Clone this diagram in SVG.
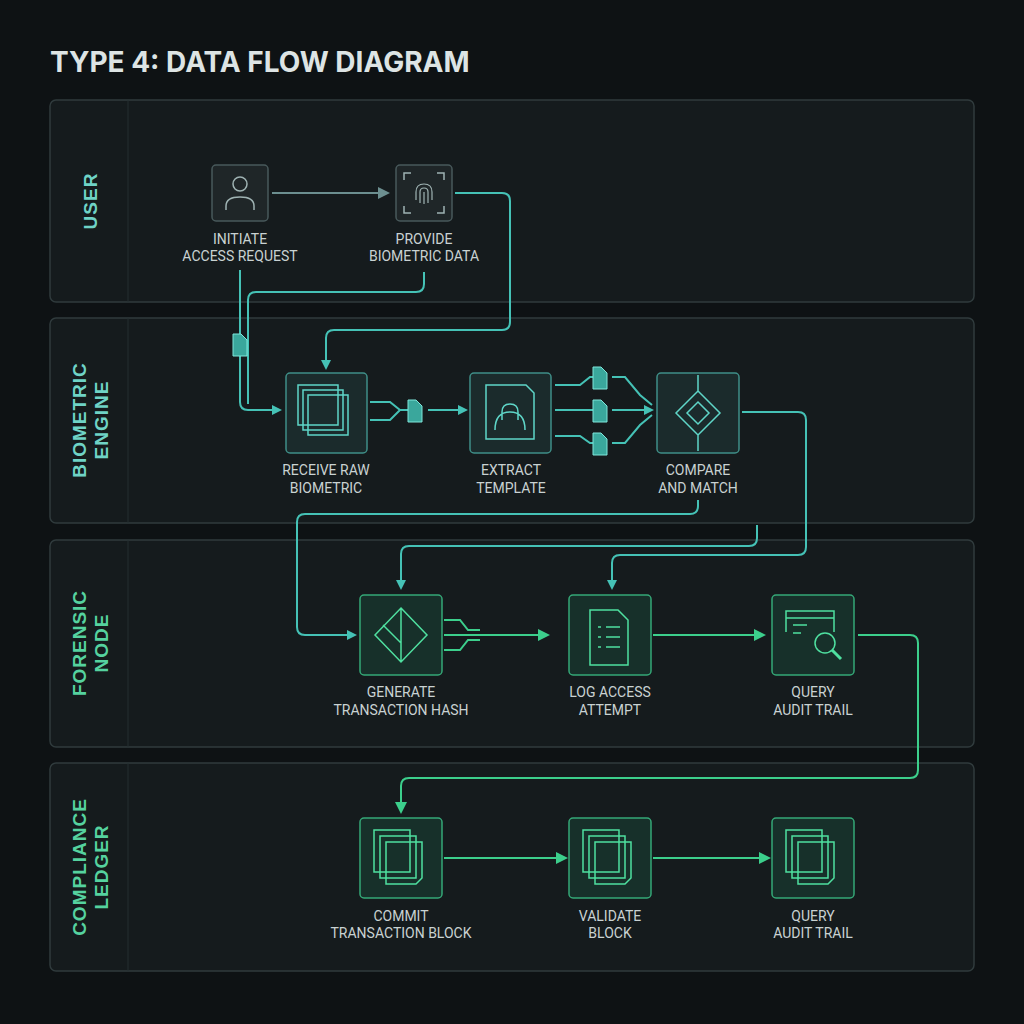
<svg xmlns="http://www.w3.org/2000/svg" width="1024" height="1024" viewBox="0 0 1024 1024">
<style>
.lane{fill:#151b1d;stroke:#303b3d;stroke-width:1.5}
.sep{stroke:#252e30;stroke-width:1}
.ll{font-family:"Liberation Sans",Arial,sans-serif;font-size:19px;font-weight:bold;letter-spacing:1px}
.t{font-family:"Roboto","Liberation Sans",sans-serif;font-size:14px;fill:#c9d2d2;text-anchor:middle}
.nt{fill:#1b2b2c;stroke:#3f8f88;stroke-width:1.5}
.ng{fill:#17302a;stroke:#35a877;stroke-width:1.5}
.nu{fill:#1f2628;stroke:#48595b;stroke-width:1.5}
.ct{fill:none;stroke:#45c2b6;stroke-width:2}
.cg{fill:none;stroke:#3ccf8c;stroke-width:2}
.cu{fill:none;stroke:#6c8f90;stroke-width:2}
.it{fill:none;stroke:#5fd6c8;stroke-width:1.5}
.ig{fill:none;stroke:#4fe0a0;stroke-width:1.5}
.doc{fill:#3aa79c;stroke:#7fe6da;stroke-width:1}
</style>
<defs>
<marker id="at" markerWidth="10" markerHeight="10" refX="8" refY="5" orient="auto" markerUnits="userSpaceOnUse"><path d="M0,0L10,5L0,10z" fill="#45c2b6"/></marker>
<marker id="ag" markerWidth="12" markerHeight="12" refX="10" refY="6" orient="auto" markerUnits="userSpaceOnUse"><path d="M0,0L12,6L0,12z" fill="#3ccf8c"/></marker>
<marker id="au" markerWidth="12" markerHeight="12" refX="10" refY="6" orient="auto" markerUnits="userSpaceOnUse"><path d="M0,0L12,6L0,12z" fill="#6c8f90"/></marker>
</defs>
<rect width="1024" height="1024" fill="#0e1214"/>
<text x="50" y="72" font-family="Inter,'Liberation Sans',sans-serif" font-size="28" font-weight="bold" fill="#dde4e4">TYPE 4: DATA FLOW DIAGRAM</text>

<g id="lanes">
<rect class="lane" x="50" y="100" width="924" height="202" rx="6"/>
<rect class="lane" x="50" y="318" width="924" height="205" rx="6"/>
<rect class="lane" x="50" y="540" width="924" height="207" rx="6"/>
<rect class="lane" x="50" y="763" width="924" height="208" rx="6"/>
<line class="sep" x1="128" y1="100" x2="128" y2="302"/>
<line class="sep" x1="128" y1="318" x2="128" y2="523"/>
<line class="sep" x1="128" y1="540" x2="128" y2="747"/>
<line class="sep" x1="128" y1="763" x2="128" y2="971"/>
<text class="ll" fill="#6fd3c6" text-anchor="middle" transform="translate(97,201) rotate(-90)">USER</text>
<text class="ll" fill="#6fd3c6" text-anchor="middle" transform="translate(86,420) rotate(-90)">BIOMETRIC<tspan x="0" dy="22">ENGINE</tspan></text>
<text class="ll" fill="#55d29f" text-anchor="middle" transform="translate(86,643) rotate(-90)">FORENSIC<tspan x="0" dy="22">NODE</tspan></text>
<text class="ll" fill="#55d29f" text-anchor="middle" transform="translate(86,867) rotate(-90)">COMPLIANCE<tspan x="0" dy="22">LEDGER</tspan></text>
</g>

<g id="connectors">
<path class="cu" d="M272,193H388" marker-end="url(#au)"/>
<path class="ct" d="M455,193H502Q510,193 510,201V322Q510,330 502,330H334Q326,330 326,338V368" marker-end="url(#at)"/>
<path class="ct" d="M240,270V402Q240,410 248,410H280" marker-end="url(#at)"/>
<path class="ct" d="M424,272V284Q424,292 416,292H256Q248,292 248,300V404"/>
<path class="ct" d="M370,402H390L400,410H410M370,420H390L400,410" />
<path class="ct" d="M428,410H466" marker-end="url(#at)"/>
<path class="ct" d="M555,385H580L590,377H596M555,410H596M555,436H580L590,443H596"/>
<path class="ct" d="M612,377H625L640,395L652,405M612,410H652M612,443H625L640,425L652,415"/>
<path class="ct" d="M612,410H652" marker-end="url(#at)"/>
<path class="ct" d="M742,412H798Q806,412 806,420V547Q806,555 798,555H620Q612,555 612,563V588" marker-end="url(#at)"/>
<path class="ct" d="M698,500V506Q698,514 690,514H305Q297,514 297,522V627Q297,635 305,635H355" marker-end="url(#at)"/>
<path class="ct" d="M757,525V538Q757,546 749,546H409Q401,546 401,554V588" marker-end="url(#at)"/>
<path class="cg" d="M444,620H460L468,630H480M444,650H460L468,640H480M444,635H548" marker-end="url(#ag)"/>
<path class="cg" d="M653,635H764" marker-end="url(#ag)"/>
<path class="cg" d="M858,635H910Q918,635 918,643V770Q918,778 910,778H409Q401,778 401,786V812" marker-end="url(#ag)"/>
<path class="cg" d="M444,858H566" marker-end="url(#ag)"/>
<path class="cg" d="M653,858H769" marker-end="url(#ag)"/>
<path class="doc" d="M233,334h8l6,6v16h-14z"/>
<path class="doc" d="M408,400h8l6,6v16h-14z"/>
<path class="doc" d="M593,367h8l6,6v16h-14z"/>
<path class="doc" d="M593,400h8l6,6v16h-14z"/>
<path class="doc" d="M593,433h8l6,6v16h-14z"/>
</g>

<g id="initiate">
<rect class="nu" x="212" y="165" width="56" height="56" rx="4"/>
<circle cx="240" cy="184" r="7" fill="none" stroke="#9fb3b3" stroke-width="1.5"/>
<path d="M226,210v-4q0-9 14-9q14,0 14,9v4" fill="none" stroke="#9fb3b3" stroke-width="1.5"/>
<text class="t" x="240" y="244">INITIATE<tspan x="240" dy="17">ACCESS REQUEST</tspan></text>
</g>
<g id="provide">
<rect class="nu" x="396" y="165" width="56" height="56" rx="4"/>
<path d="M404,180v-7h7M437,173h7v7M444,206v7h-7M411,213h-7v-7" fill="none" stroke="#9fb3b3" stroke-width="1.5"/>
<path d="M416,200v-8q0-8 8-8q8,0 8,8v8M420,203v-11q0-4 4-4q4,0 4,4v11M424,192v12" fill="none" stroke="#9fb3b3" stroke-width="1.2"/>
<text class="t" x="424" y="244">PROVIDE<tspan x="424" dy="17">BIOMETRIC DATA</tspan></text>
</g>
<g id="receive">
<rect class="nt" x="286" y="373" width="81" height="80" rx="4"/>
<rect class="it" x="298" y="385" width="40" height="40"/>
<rect class="it" x="303" y="390" width="40" height="40" fill="#1b2b2c"/>
<rect class="it" x="308" y="395" width="40" height="40" fill="#1b2b2c"/>
<text class="t" x="326" y="475">RECEIVE RAW<tspan x="326" dy="18">BIOMETRIC</tspan></text>
</g>
<g id="extract">
<rect class="nt" x="470" y="373" width="81" height="80" rx="4"/>
<path class="it" d="M486,385h40l8,8v46h-48z"/>
<path class="it" d="M495,430q0-18 15-18q15,0 15,18M502,420v-8q0-8 8-8q8,0 8,8v8"/>
<text class="t" x="511" y="475">EXTRACT<tspan x="511" dy="18">TEMPLATE</tspan></text>
</g>
<g id="compare">
<rect class="nt" x="657" y="373" width="82" height="80" rx="4"/>
<path class="it" d="M698,391l22,22l-22,22l-22,-22z M698,402l11,11l-11,11l-11,-11z M698,375v16M698,435v16"/>
<text class="t" x="698" y="475">COMPARE<tspan x="698" dy="18">AND MATCH</tspan></text>
</g>
<g id="generate">
<rect class="ng" x="360" y="595" width="82" height="80" rx="4"/>
<path class="ig" d="M401,608l26,27l-26,27l-26,-27z M401,608v54M383,625l18,18"/>
<text class="t" x="401" y="697">GENERATE<tspan x="401" dy="18">TRANSACTION HASH</tspan></text>
</g>
<g id="log">
<rect class="ng" x="569" y="595" width="82" height="80" rx="4"/>
<path class="ig" d="M590,610h28l10,10v45h-38z M598,627h3M606,627h14M598,637h3M606,637h14M598,647h3M606,647h14"/>
<text class="t" x="610" y="697">LOG ACCESS<tspan x="610" dy="18">ATTEMPT</tspan></text>
</g>
<g id="query">
<rect class="ng" x="772" y="595" width="82" height="80" rx="4"/>
<path class="ig" d="M786,632v-21h48v21M786,618h48M793,625h14M793,633h8"/>
<circle class="ig" cx="825" cy="643" r="10"/>
<path d="M832,650l9,9" stroke="#4fe0a0" stroke-width="3"/>
<text class="t" x="813" y="697">QUERY<tspan x="813" dy="18">AUDIT TRAIL</tspan></text>
</g>
<g id="commit">
<rect class="ng" x="360" y="818" width="82" height="80" rx="4"/>
<rect class="ig" x="374" y="830" width="36" height="42" fill="#17302a"/>
<rect class="ig" x="380" y="836" width="36" height="42" fill="#17302a"/>
<path class="ig" d="M386,842h36v36l-6,6h-30z" fill="#17302a"/>
<text class="t" x="401" y="921">COMMIT<tspan x="401" dy="17">TRANSACTION BLOCK</tspan></text>
</g>
<g id="validate">
<rect class="ng" x="569" y="818" width="82" height="80" rx="4"/>
<rect class="ig" x="583" y="830" width="36" height="42" fill="#17302a"/>
<rect class="ig" x="589" y="836" width="36" height="42" fill="#17302a"/>
<path class="ig" d="M595,842h36v36l-6,6h-30z" fill="#17302a"/>
<text class="t" x="610" y="921">VALIDATE<tspan x="610" dy="17">BLOCK</tspan></text>
</g>
<g id="query2">
<rect class="ng" x="772" y="818" width="82" height="80" rx="4"/>
<rect class="ig" x="786" y="830" width="36" height="42" fill="#17302a"/>
<rect class="ig" x="792" y="836" width="36" height="42" fill="#17302a"/>
<path class="ig" d="M798,842h36v36l-6,6h-30z" fill="#17302a"/>
<text class="t" x="813" y="921">QUERY<tspan x="813" dy="17">AUDIT TRAIL</tspan></text>
</g>
</svg>
